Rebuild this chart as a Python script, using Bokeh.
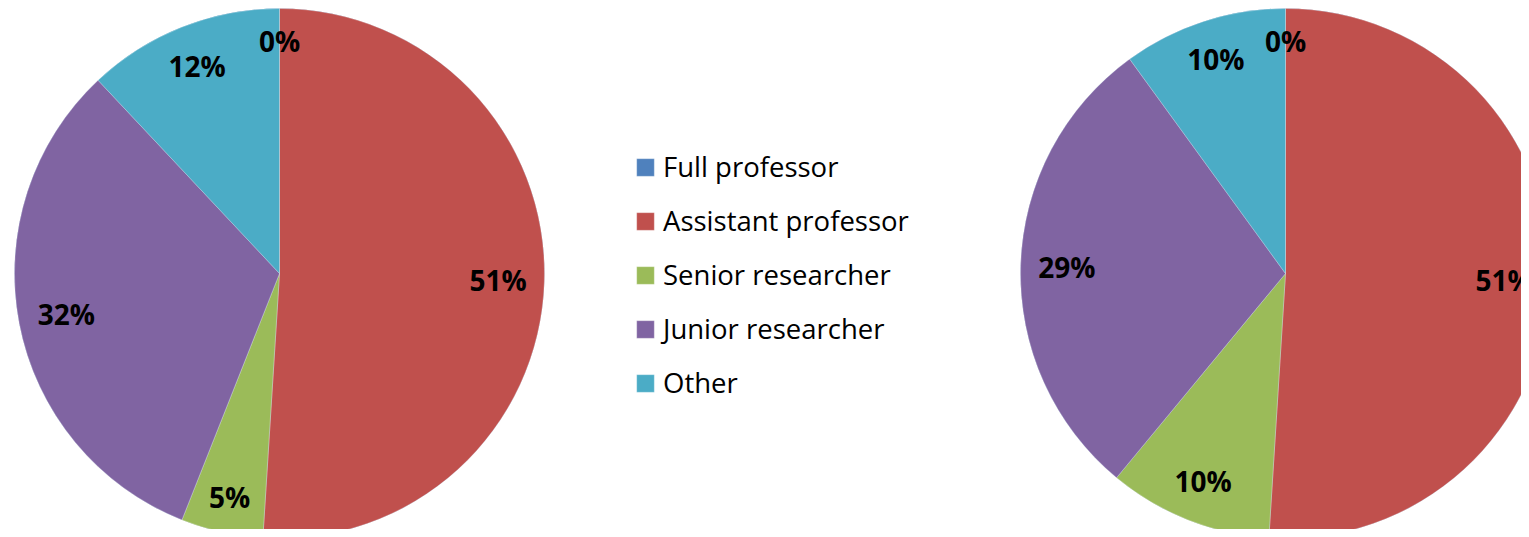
import numpy as np
from bokeh.plotting import figure
from bokeh.models import ColumnDataSource, Range1d, Legend, LegendItem
from bokeh.core.properties import value
from bokeh.embed import file_html
from bokeh.resources import INLINE

categories = ["Full professor", "Assistant professor", "Senior researcher",
              "Junior researcher", "Other"]
left_values = [0, 51, 5, 32, 12]
right_values = [0, 51, 10, 29, 10]
colors = ["#4F81BD", "#C0504D", "#9BBB59", "#8064A2", "#4BACC6"]

W, H = 1521, 529
R = 265
LABEL_PX = 28
EDGE_GAP = 18
HALF_H = 14

p = figure(width=W, height=H, x_range=Range1d(0, W), y_range=Range1d(0, H),
           output_backend="svg", toolbar_location=None, min_border=0)
p.axis.visible = False
p.grid.visible = False
p.outline_line_color = None
p.background_fill_color = "white"
p.border_fill_color = "white"


def pie(values, cx, cy):
    v = np.array(values, dtype=float)
    frac = v / v.sum()
    cum = np.concatenate([[0], np.cumsum(frac)])
    start = np.pi / 2 - 2 * np.pi * cum[:-1]
    end = np.pi / 2 - 2 * np.pi * cum[1:]
    mid = (start + end) / 2
    labels = [f"{int(round(x))}%" for x in values]
    half_w = np.array([LABEL_PX * (0.572 * (len(s) - 1) + 0.85) / 2 for s in labels])
    extent = np.abs(np.cos(mid)) * half_w + np.abs(np.sin(mid)) * HALF_H
    d = R - EDGE_GAP - extent
    src = ColumnDataSource(dict(
        cat=categories, color=colors, start=start, end=end,
        x=[cx] * len(values), y=[cy] * len(values),
        lx=cx + d * np.cos(mid), ly=cy + d * np.sin(mid),
        label=labels,
    ))
    r = p.wedge(x="x", y="y", radius=R, start_angle="start", end_angle="end",
                direction="clock", fill_color="color", line_color="white",
                line_width=0.6, line_alpha=0.5, source=src)
    p.text(x="lx", y="ly", text="label", source=src, text_align="center",
           text_baseline="middle", text_font=value("Open Sans"),
           text_font_style="bold", text_font_size=f"{LABEL_PX}px",
           text_color="black")
    return r


r_left = pie(left_values, 279, H - 273)
r_right = pie(right_values, 1285, H - 273)

items = [LegendItem(label=c, renderers=[r_left], index=i)
         for i, c in enumerate(categories)]
legend = Legend(items=items, location=(634, 128), orientation="vertical",
                glyph_width=22, glyph_height=22, label_standoff=7,
                spacing=17, padding=0, margin=0, border_line_color=None,
                background_fill_alpha=0, label_text_font="Open Sans",
                label_text_font_size="27.5px", label_height=30,
                label_text_color="black")
p.add_layout(legend)

open("out.html", "w").write(file_html(p, INLINE))
